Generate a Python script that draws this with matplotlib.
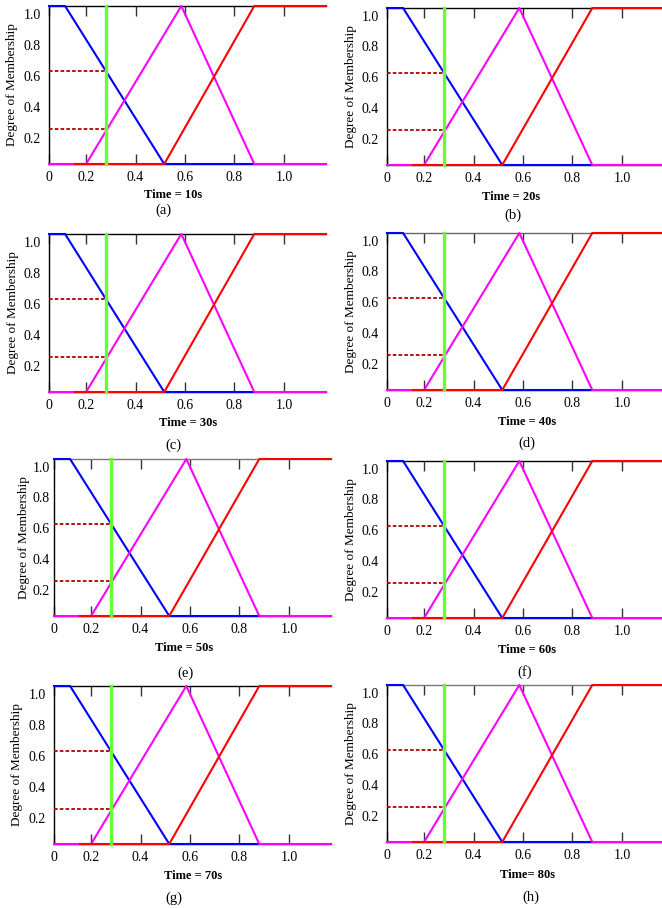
import matplotlib
matplotlib.use("Agg")
import matplotlib.pyplot as plt

plt.rcParams["font.family"] = ["Liberation Serif", "DejaVu Serif"]

# membership functions (x in time units, y as drawn on the axis)
blue_x = [0.05, 0.115, 0.516, 0.88]
blue_y = [1.05, 1.05, 0.03, 0.03]
magenta_x = [0.05, 0.2, 0.585, 0.88, 1.17]
magenta_y = [0.03, 0.03, 1.05, 0.03, 0.03]
red_x = [0.155, 0.516, 0.88, 1.17]
red_y = [0.03, 0.03, 1.05, 1.05]
input_x = 0.281
cut_levels = [0.63, 0.256]

panel_titles = ["Time = 10s", "Time = 20s", "Time = 30s", "Time = 40s",
                "Time = 50s", "Time = 60s", "Time = 70s", "Time= 80s"]
panel_letters = ["(a)", "(b)", "(c)", "(d)", "(e)", "(f)", "(g)", "(h)"]

x_ticks = [0.05, 0.2, 0.4, 0.6, 0.8, 1.0]
x_ticklabels = ["0", "0.2", "0.4", "0.6", "0.8", "1.0"]
y_ticks = [0.2, 0.4, 0.6, 0.8, 1.0]

W, H = 662, 908
fig = plt.figure(figsize=(W / 100, H / 100), dpi=100)

# pixel layout of each panel: left, top, bottom of axes; title xy; letter xy; ylabel offset; y tick pad
layout = [
    (49, 6, 164, (173, 195), (163, 210), -0.112, 6),
    (387, 8, 165, (511, 197), (513, 215), -0.108, 6),
    (49, 234, 392, (188, 423), (173, 445), -0.108, 6),
    (387, 233, 390, (527, 422), (527, 443), -0.108, 6),
    (54, 459, 616, (184, 648), (186, 673), -0.087, 3),
    (387, 461, 618, (527, 650), (525, 672), -0.108, 6),
    (54, 686, 844, (193, 876), (174, 898), -0.112, 6),
    (387, 685, 842, (527, 875), (531, 897), -0.108, 6),
]
top_colors = ["black", "black", "black", "#666666", "#777777", "black", "black", "#777777"]
axw = 277

for i, (left, top, bottom, tpos, lpos, ylx, ypad) in enumerate(layout):
    ax = fig.add_axes([left / W, 1 - bottom / H, axw / W, (bottom - top) / H])
    ax.set_xlim(0.05, 1.17)
    ax.set_ylim(0.03, 1.05)

    ax.plot(blue_x, blue_y, color="#0000ff", lw=1.5, clip_on=False, zorder=3)
    ax.plot(magenta_x, magenta_y, color="#ff00ff", lw=1.5, clip_on=False, zorder=4)
    ax.plot(red_x, red_y, color="#ff0000", lw=1.5, clip_on=False, zorder=5)
    for lev in cut_levels:
        ax.plot([0.05, input_x], [lev, lev], color="#b00000", lw=1.3,
                linestyle=(0, (2, 1.2)), zorder=6)
    ax.plot([input_x, input_x], [0.03, 1.05], color="#66ff33", lw=2.4,
            clip_on=False, zorder=7)

    ax.spines["right"].set_visible(False)
    ax.spines["top"].set_color(top_colors[i])
    for s in ["left", "bottom", "top"]:
        ax.spines[s].set_linewidth(1.0)

    ax.set_xticks(x_ticks)
    ax.set_xticklabels(x_ticklabels)
    ax.set_yticks(y_ticks)
    ax.set_yticklabels(["0.2", "0.4", "0.6", "0.8", "1.0"])
    ax.tick_params(axis="x", direction="in", top=True, length=7, width=1,
                   color="#333333", labelsize=10, pad=5)
    ax.tick_params(axis="y", length=0, labelsize=10, pad=ypad)

    ax.set_ylabel("Degree of Membership", fontsize=9.5)
    ax.yaxis.set_label_coords(ylx, 0.5)

    fig.text(tpos[0] / W, 1 - tpos[1] / H, panel_titles[i], fontsize=9,
             fontweight="bold", ha="center", va="center")
    fig.text(lpos[0] / W, 1 - lpos[1] / H, panel_letters[i], fontsize=10.5,
             ha="center", va="center")

fig.savefig("out.png", dpi=100)
